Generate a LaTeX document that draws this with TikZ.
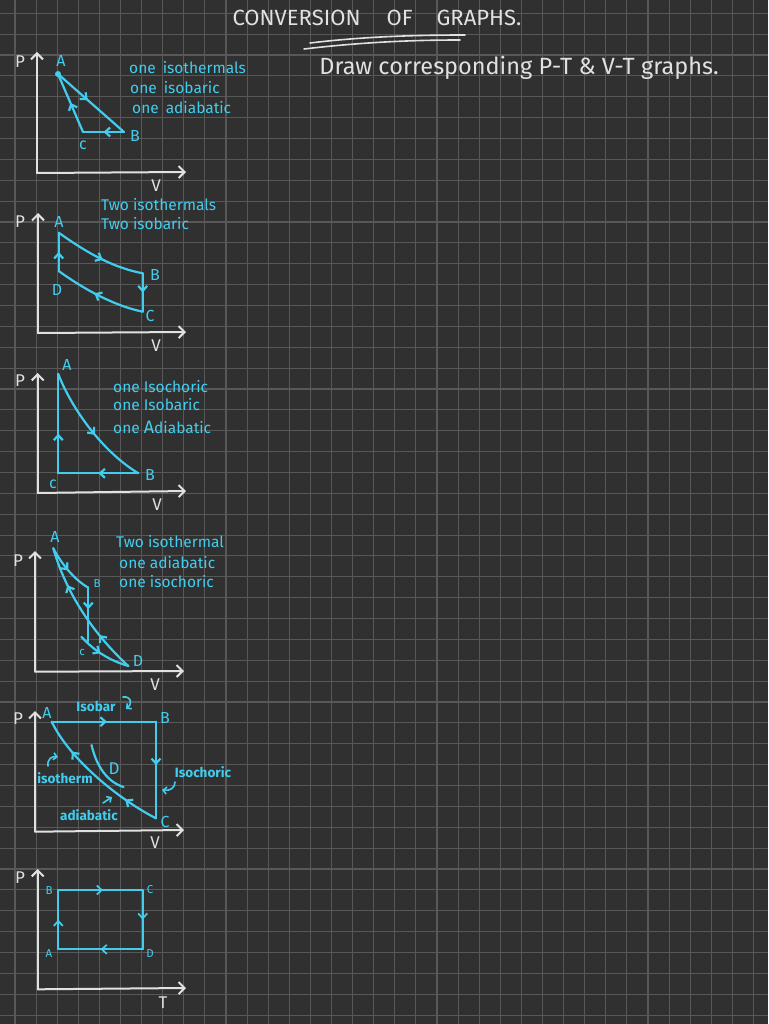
\documentclass[tikz,border=0pt]{standalone}
\usepackage{fontspec}
\setmainfont{Fira Sans}
\usetikzlibrary{arrows.meta,decorations.markings}
\definecolor{bg}{RGB}{48,48,48}
\definecolor{gridc}{RGB}{88,88,88}
\definecolor{cy}{RGB}{66,205,238}
\definecolor{chalk}{RGB}{225,225,225}
\tikzset{
  tipm/.tip={Straight Barb[length=5pt,width=9pt]},
  ax/.style={chalk,line width=2pt,line cap=round,-{Straight Barb[length=6pt,width=12pt]}},
  ln/.style={cy,line width=2.2pt,line cap=round,line join=round},
  thinln/.style={cy,line width=1.7pt,line cap=round,line join=round},
  mid/.style={postaction={decorate,decoration={markings,mark=at position #1 with {\arrow{tipm}}}}},
  mid/.default=0.5,
  twomid/.style 2 args={postaction={decorate,decoration={markings,mark=at position #1 with {\arrow{tipm}},mark=at position #2 with {\arrow{tipm}}}}},
  curl/.style={cy,line width=1.6pt,line cap=round,-{Straight Barb[length=3.5pt,width=7pt]}},
  pl/.style={text=cy,inner sep=0pt,font=\fontsize{16}{18}\selectfont},
  spl/.style={text=cy,inner sep=0pt,font=\fontsize{11.5}{13}\selectfont},
  note/.style={text=cy,inner sep=0pt,anchor=west,font=\fontsize{15.5}{17}\selectfont},
  ann/.style={text=cy,inner sep=0pt,font=\fontsize{13.5}{15}\bfseries},
  axl/.style={text=chalk,inner sep=0pt,font=\fontsize{17}{19}\selectfont},
}
\begin{document}
\begin{tikzpicture}[x=1pt,y=-1pt]
\useasboundingbox (0,0) rectangle (768,1024);
\fill[bg] (0,0) rectangle (768,1024);
% grid
\foreach \i in {0,...,35} \draw[gridc,line width=1.1pt] ({15+\i*21.1},0) -- ({15+\i*21.1},1024);
\foreach \j in {0,...,48} \draw[gridc,line width=1.1pt] (0,{13.3+\j*20.87}) -- (768,{13.3+\j*20.87});

% title
\node[text=chalk,font=\fontsize{22}{25}\selectfont,inner sep=0pt] (title) at (377,18) {CONVERSION\hspace{26pt}OF\hspace{24pt}GRAPHS.};
\coordinate (u1s) at (310,43); \coordinate (u1e) at (465,35);
\coordinate (u2s) at (304,49); \coordinate (u2e) at (460,40);
\draw[chalk,line width=1.6pt,line cap=round] (u1s) .. controls (360,37) and (410,35) .. (u1e);
\draw[chalk,line width=1.6pt,line cap=round] (u2s) .. controls (355,43) and (405,40) .. (u2e);
\node[text=chalk,font=\fontsize{23.5}{26}\selectfont,inner sep=0pt] (sub) at (519,68) {Draw corresponding P-T \& V-T graphs.};

% ---------- graph 1 ----------
\coordinate (g1o) at (37,173); \coordinate (g1y) at (37,52); \coordinate (g1x) at (186,172);
\draw[ax] (g1o) -- (g1y); \draw[ax] (g1o) -- (g1x);
\node[axl] (g1P) at (20,62) {P}; \node[axl] (g1V) at (156,186) {V};
\coordinate (g1A) at (58,74); \coordinate (g1B) at (124,132); \coordinate (g1C) at (83,132);
\draw[ln,mid=0.45] (g1A) -- (g1B);
\draw[ln,mid] (g1B) -- (g1C);
\draw[ln,mid] (g1C) -- (g1A);
\fill[cy] (g1A) circle (3);
\node[pl] (g1lA) at (61,61) {A}; \node[pl] (g1lB) at (135,136) {B}; \node[pl] (g1lC) at (83,145) {c};
\node[note] (g1t1) at (129,68) {one\hspace{7pt}isothermals};
\node[note] (g1t2) at (130,88) {one\hspace{7pt}isobaric};
\node[note] (g1t3) at (132,108) {one\hspace{7pt}adiabatic};

% ---------- graph 2 ----------
\coordinate (g2o) at (38,333); \coordinate (g2y) at (38,213); \coordinate (g2x) at (186,332);
\draw[ax] (g2o) -- (g2y); \draw[ax] (g2o) -- (g2x);
\node[axl] (g2P) at (20,222) {P}; \node[axl] (g2V) at (156,346) {V};
\coordinate (g2A) at (58.7,232.7); \coordinate (g2B) at (142.7,273.3);
\coordinate (g2C) at (142.7,311.7); \coordinate (g2D) at (58.7,271);
\draw[ln,mid=0.55] (g2A) .. controls (90,255) and (115,268) .. (g2B);
\draw[ln,mid] (g2B) -- (g2C);
\draw[ln,mid=0.55] (g2C) .. controls (115,306) and (85,290) .. (g2D);
\draw[ln,mid] (g2D) -- (g2A);
\node[pl] (g2lA) at (59,222) {A}; \node[pl] (g2lB) at (155,275) {B};
\node[pl] (g2lC) at (150,316) {C}; \node[pl] (g2lD) at (57,290) {D};
\node[note] (g2t1) at (101,205) {Two isothermals};
\node[note] (g2t2) at (101,224) {Two isobaric};

% ---------- graph 3 ----------
\coordinate (g3o) at (37.7,493); \coordinate (g3y) at (37.7,373); \coordinate (g3x) at (186,491);
\draw[ax] (g3o) -- (g3y); \draw[ax] (g3o) -- (g3x);
\node[axl] (g3P) at (20,381) {P}; \node[axl] (g3V) at (157,505) {V};
\coordinate (g3A) at (58.3,374); \coordinate (g3B) at (138.3,473.3); \coordinate (g3C) at (58.3,473.3);
\draw[ln,mid=0.55] (g3A) .. controls (70,405) and (100,450) .. (g3B);
\draw[ln,mid] (g3B) -- (g3C);
\draw[ln,mid=0.4] (g3C) -- (g3A);
\node[pl] (g3lA) at (67,365) {A}; \node[pl] (g3lB) at (150,475) {B}; \node[pl] (g3lC) at (53,484) {c};
\node[note] (g3t1) at (113,387) {one Isochoric};
\node[note] (g3t2) at (113,405) {one Isobaric};
\node[note] (g3t3) at (113,427) {one {\fontsize{18}{18}\selectfont A}diabatic};

% ---------- graph 4 ----------
\coordinate (g4o) at (35,671.7); \coordinate (g4y) at (35,551); \coordinate (g4x) at (184,671);
\draw[ax] (g4o) -- (g4y); \draw[ax] (g4o) -- (g4x);
\node[axl] (g4P) at (18,561) {P}; \node[axl] (g4V) at (155,685) {V};
\coordinate (g4A) at (53.3,548.3); \coordinate (g4B) at (88.3,587.7);
\coordinate (g4C) at (88.3,641.5); \coordinate (g4Cs) at (81.5,637); \coordinate (g4D) at (128.3,666);
\draw[ln,mid=0.5] (g4A) .. controls (62,565) and (75,580) .. (g4B);
\draw[ln,mid=0.4] (g4B) -- (g4C);
\draw[ln,mid=0.45] (g4Cs) .. controls (92,648) and (105,659) .. (g4D);
\draw[ln,twomid={0.3}{0.72}] (g4D) .. controls (100,640) and (68,600) .. (g4A);
\node[pl] (g4lA) at (55,537) {A}; \node[spl] (g4lB) at (97,584) {B};
\node[spl] (g4lC) at (82,652) {c}; \node[pl] (g4lD) at (138,661) {D};
\node[note] (g4t1) at (116,542) {Two isothermal};
\node[note] (g4t2) at (119,563) {one adiabatic};
\node[note] (g4t3) at (119,582) {one isochoric};

% ---------- graph 5 ----------
\coordinate (g5o) at (35,831.7); \coordinate (g5y) at (35,711); \coordinate (g5x) at (184,830);
\draw[ax] (g5o) -- (g5y); \draw[ax] (g5o) -- (g5x);
\node[axl] (g5P) at (18,719) {P}; \node[axl] (g5V) at (155,843) {V};
\coordinate (g5A) at (51.7,721.7); \coordinate (g5B) at (156,721.7); \coordinate (g5C) at (156,818.3);
\coordinate (g5a1) at (91.5,745); \coordinate (g5a2) at (123.5,787);
\draw[ln,mid=0.53] (g5A) -- (g5B);
\draw[ln,mid=0.45] (g5B) -- (g5C);
\draw[ln,twomid={0.25}{0.75}] (g5C) .. controls (120,800) and (70,760) .. (g5A);
\draw[ln] (g5a1) .. controls (97,768) and (108,782) .. (g5a2);
\node[pl] (g5lA) at (47,713) {A}; \node[pl] (g5lB) at (165,718) {B};
\node[pl] (g5lC) at (165,822) {C}; \node[pl,font=\fontsize{17}{17}\selectfont] (g5lD) at (114,769) {D};
\node[ann] (g5isobar) at (96,706) {Isobar};
\coordinate (g5c1s) at (123,697); \coordinate (g5c1e) at (126,709);
\draw[curl] (g5c1s) .. controls (131,696) and (133,703) .. (g5c1e);
\node[ann] (g5iso) at (65,778) {isotherm};
\coordinate (g5c2s) at (48,766); \coordinate (g5c2e) at (58,757);
\draw[curl] (g5c2s) .. controls (47,759) and (52,756) .. (g5c2e);
\node[ann] (g5isoch) at (203,772) {Isochoric};
\coordinate (g5c3s) at (175,782); \coordinate (g5c3e) at (162,790);
\draw[curl] (g5c3s) .. controls (175,788) and (170,791) .. (g5c3e);
\node[ann] (g5adi) at (89,815) {adiabatic};
\coordinate (g5c4s) at (103,803); \coordinate (g5c4e) at (112,797);
\draw[curl] (g5c4s) -- (g5c4e);

% ---------- graph 6 ----------
\coordinate (g6o) at (37.7,989.3); \coordinate (g6y) at (37.7,869); \coordinate (g6x) at (186,988);
\draw[ax] (g6o) -- (g6y); \draw[ax] (g6o) -- (g6x);
\node[axl] (g6P) at (20,878) {P}; \node[axl] (g6T) at (163,1003) {T};
\coordinate (g6B) at (58.3,890); \coordinate (g6C) at (142.7,890);
\coordinate (g6D) at (142.7,949.3); \coordinate (g6A) at (58.3,949.3);
\draw[thinln,mid=0.53] (g6B) -- (g6C);
\draw[thinln,mid=0.5] (g6C) -- (g6D);
\draw[thinln,mid=0.5] (g6D) -- (g6A);
\draw[thinln,mid=0.5] (g6A) -- (g6B);
\node[spl] (g6lB) at (49,891) {B}; \node[spl] (g6lC) at (150,890) {C};
\node[spl] (g6lD) at (150,954) {D}; \node[spl] (g6lA) at (49,954) {A};
\end{tikzpicture}
\end{document}
